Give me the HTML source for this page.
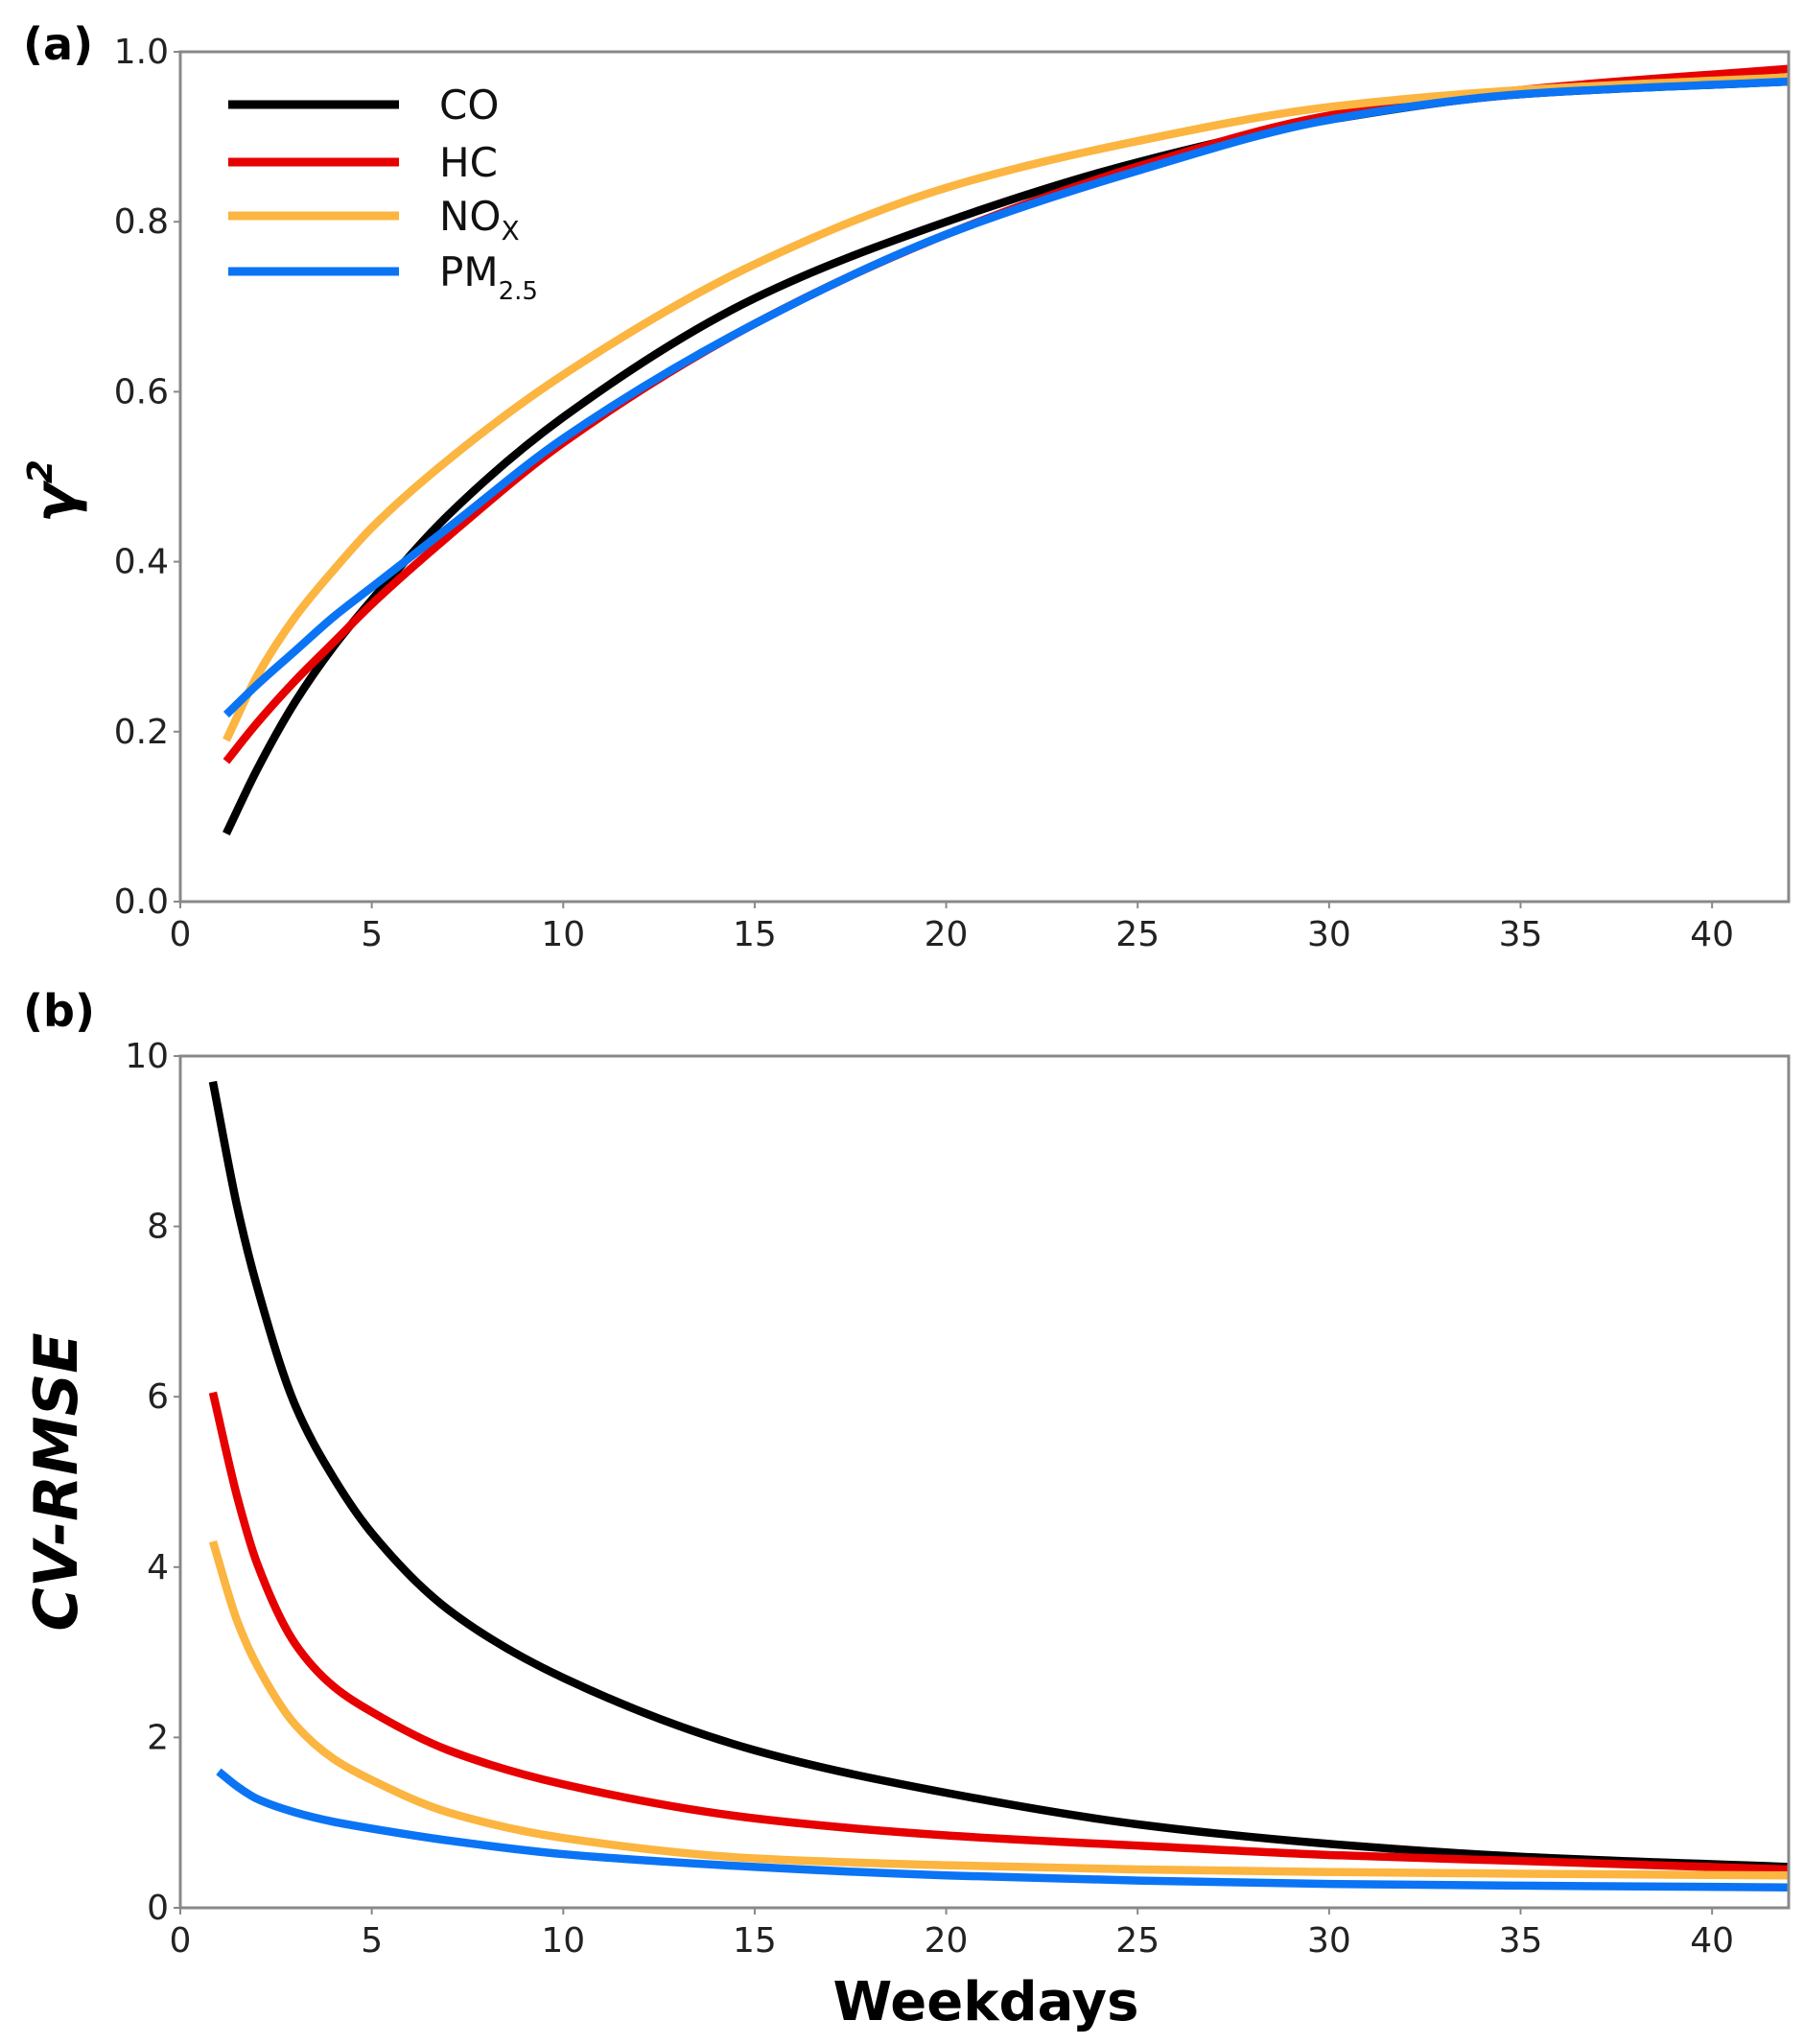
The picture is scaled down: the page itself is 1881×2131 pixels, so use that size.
<!DOCTYPE html>
<html><head><meta charset="utf-8"><style>
html,body{margin:0;padding:0;background:#fff;}
svg{display:block;}
text{font-family:"DejaVu Sans","Liberation Sans",sans-serif;}
</style></head><body>
<svg id="chart" width="1881" height="2131" viewBox="0 0 1881 2131" xmlns="http://www.w3.org/2000/svg"></svg>
<script>
const xTicks=[0,5,10,15,20,25,30,35,40];
const yTicksA=[0.0,0.2,0.4,0.6,0.8,1.0];
const yTickLabelsA=["0.0","0.2","0.4","0.6","0.8","1.0"];
const yTicksB=[0,2,4,6,8,10];
const seriesNames=["CO","HC","NOx","PM2.5"];
const seriesColors=["#000000","#e60000","#fbb540","#0a74f5"];
const xA=[1.2,2,3,4,5,7,10,15,20,25,30,35,42];
const coA=[0.08,0.155,0.235,0.30,0.355,0.455,0.57,0.71,0.80,0.87,0.92,0.95,0.965];
const hcA=[0.165,0.21,0.26,0.305,0.35,0.43,0.54,0.68,0.785,0.865,0.925,0.955,0.98];
const noxA=[0.19,0.265,0.335,0.39,0.44,0.52,0.62,0.75,0.84,0.895,0.935,0.955,0.97];
const pmA=[0.22,0.255,0.295,0.335,0.37,0.44,0.545,0.68,0.785,0.86,0.92,0.95,0.965];
const xB=[0.85,1.5,2,3,4,5,7,10,15,20,25,30,35,42];
const coB=[9.7,8.2,7.3,5.9,5.05,4.4,3.5,2.7,1.85,1.35,0.98,0.75,0.6,0.48];
const hcB=[6.05,4.8,4.05,3.1,2.6,2.3,1.85,1.45,1.05,0.85,0.73,0.62,0.55,0.45];
const noxB=[4.3,3.35,2.85,2.15,1.75,1.5,1.12,0.82,0.58,0.5,0.45,0.42,0.4,0.38];
const xBpm=[1.0,1.5,2,3,4,5,7,10,15,20,25,30,35,42];
const pmB=[1.6,1.42,1.28,1.12,1.01,0.93,0.79,0.63,0.48,0.38,0.32,0.28,0.26,0.24];

const NS="http://www.w3.org/2000/svg";
const svg=document.getElementById('chart');
function mk(tag,attrs,parent){const e=document.createElementNS(NS,tag);for(const k in attrs)e.setAttribute(k,attrs[k]);(parent||svg).appendChild(e);return e;}
const L=188,R=1865;
const xs=v=>L+(v/42)*(R-L);
function monotone(pts){
  const n=pts.length,dx=[],m=[],t=[];
  for(let i=0;i<n-1;i++){dx.push(pts[i+1][0]-pts[i][0]);m.push((pts[i+1][1]-pts[i][1])/dx[i]);}
  t[0]=m[0];t[n-1]=m[n-2];
  for(let i=1;i<n-1;i++){if(m[i-1]*m[i]<=0)t[i]=0;else{const w1=2*dx[i]+dx[i-1],w2=dx[i]+2*dx[i-1];t[i]=(w1+w2)/(w1/m[i-1]+w2/m[i]);}}
  let d=`M${pts[0][0]},${pts[0][1]}`;
  for(let i=0;i<n-1;i++){const h=dx[i]/3;d+=` C${pts[i][0]+h},${pts[i][1]+t[i]*h} ${pts[i+1][0]-h},${pts[i+1][1]-t[i+1]*h} ${pts[i+1][0]},${pts[i+1][1]}`;}
  return d;
}
function panel(id,top,bot,ymax,yt,ytl,series,xsArr){
  const g=mk('g',{});
  
  
  const ys=v=>bot-(v/ymax)*(bot-top);
  series.forEach((s,i)=>{
    const p=mk('path',{d:monotone(s.map((v,j)=>[xs(xsArr[i][j]),ys(v)])),fill:'none',stroke:seriesColors[i],'stroke-width':8.5,'stroke-linejoin':'round'},g);
    
    
  });
  const f=mk('rect',{x:L,y:top,width:R-L,height:bot-top,fill:'none',stroke:'#888','stroke-width':3},g);
  
  
  xTicks.forEach(t=>{
    mk('line',{x1:xs(t),x2:xs(t),y1:bot,y2:bot+7,stroke:'#888','stroke-width':2},g);
    const tx=mk('text',{x:xs(t),y:bot+46,'font-size':36,fill:'#222','text-anchor':'middle'},g);
    tx.textContent=t;
    
    
  });
  yt.forEach((t,i)=>{
    mk('line',{x1:L-7,x2:L,y1:ys(t),y2:ys(t),stroke:'#888','stroke-width':2},g);
    const tx=mk('text',{x:L-12,y:ys(t)+12,'font-size':36,fill:'#222','text-anchor':'end'},g);
    tx.textContent=ytl[i];
    
    
  });
}
panel('panel-a',54,940,1.0,yTicksA,yTickLabelsA,[coA,hcA,noxA,pmA],[xA,xA,xA,xA]);
panel('panel-b',1101,1989,10,yTicksB,yTicksB.map(String),[coB,hcB,noxB,pmB],[xB,xB,xB,xBpm]);

const lg=mk('g',{});


const legY=[109,169,225,283];
const legLabels=['CO','HC','NO<tspan font-size="28" dy="10">X</tspan>','PM<tspan font-size="26" dy="14">2.5</tspan>'];
legY.forEach((y,i)=>{
  const l=mk('line',{x1:238,x2:416,y1:y,y2:y,stroke:seriesColors[i],'stroke-width':9},lg);
  
  
  const t=mk('text',{x:458,y:y+15,'font-size':42,fill:'#111','font-family':'Liberation Sans, sans-serif'},lg);
  t.innerHTML=legLabels[i];
  
  
});
</script>
<svg style="position:absolute;left:0;top:0" width="1881" height="2131" xmlns="http://www.w3.org/2000/svg">
<text x="24" y="62" font-size="46" font-weight="bold" font-family="Liberation Sans, sans-serif">(a)</text>
<text x="24" y="1070" font-size="46" font-weight="bold" font-family="Liberation Sans, sans-serif">(b)</text>
<text transform="translate(78,545) rotate(-90)" font-size="60" font-weight="bold" font-style="italic" font-family="Liberation Serif, serif">γ<tspan font-size="36" dy="-24">2</tspan></text>
<text transform="translate(80,1545) rotate(-90)" text-anchor="middle" font-size="62" font-weight="bold" font-style="italic" font-family="Liberation Sans, sans-serif">CV-RMSE</text>
<text x="1028" y="2106" text-anchor="middle" font-size="56" font-weight="bold" font-family="Liberation Sans, sans-serif">Weekdays</text>
</svg>
</body></html>
